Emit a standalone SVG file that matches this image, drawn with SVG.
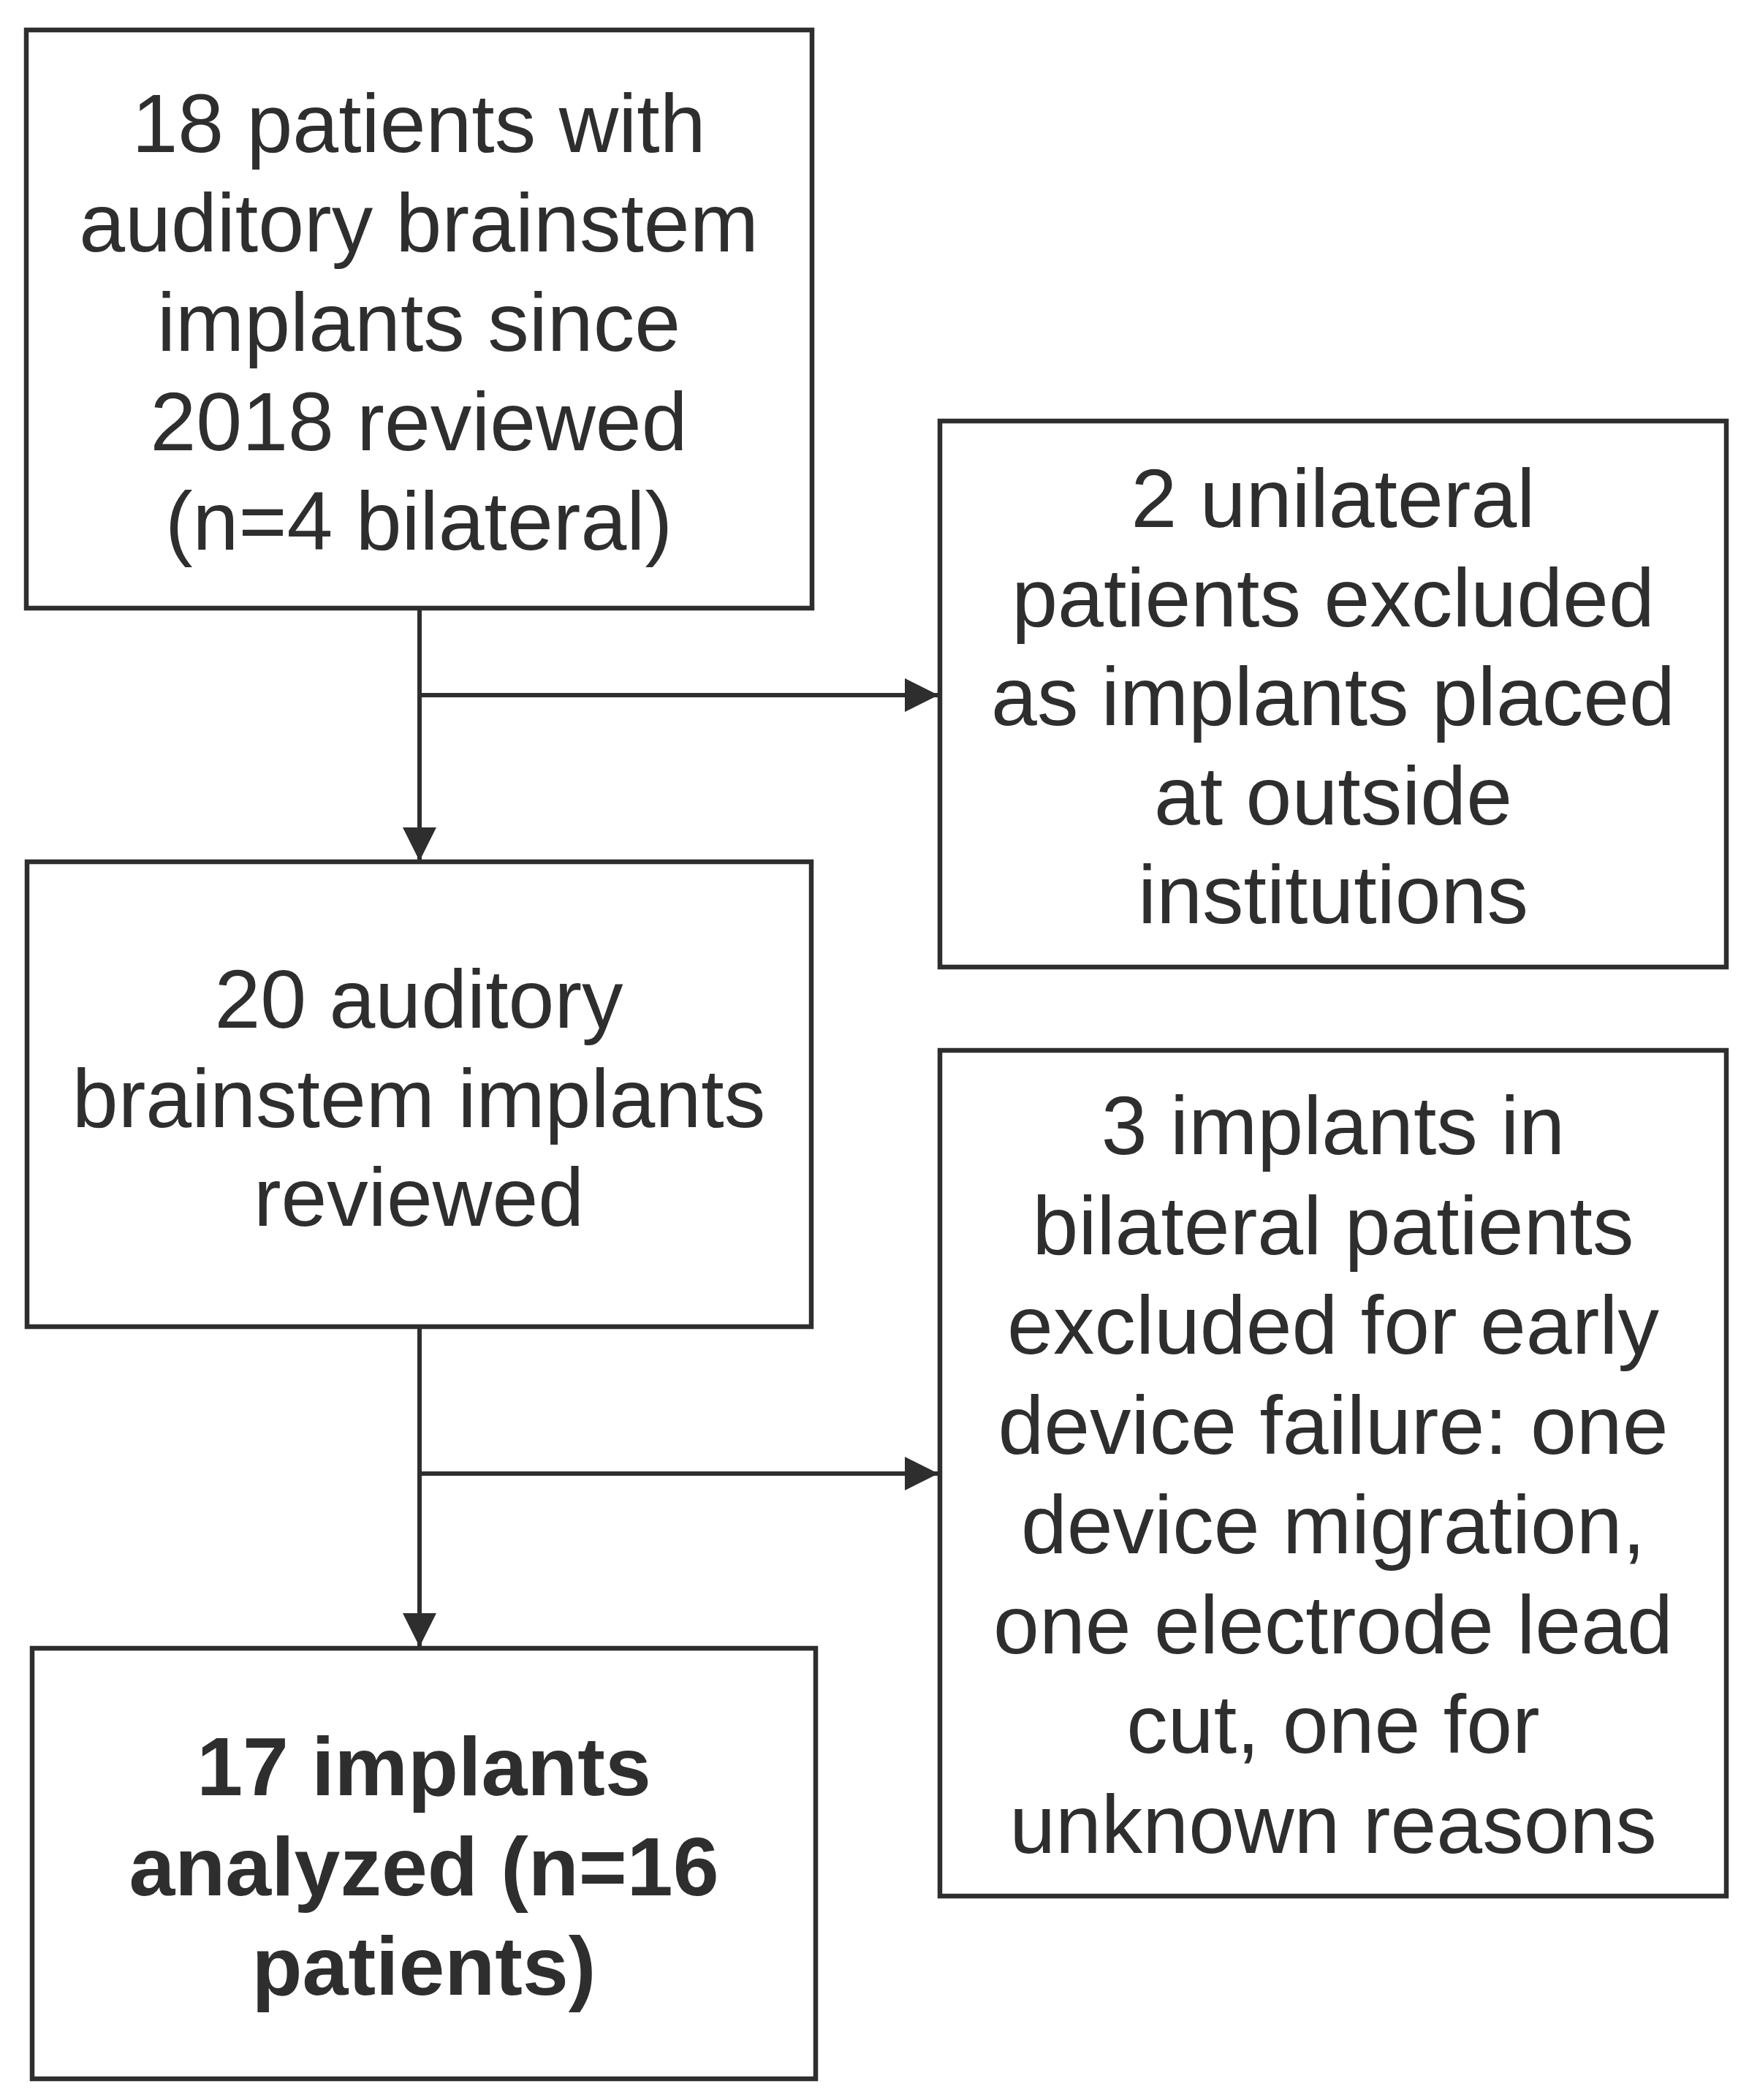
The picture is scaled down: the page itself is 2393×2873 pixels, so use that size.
<svg xmlns="http://www.w3.org/2000/svg" width="2393" height="2873" viewBox="0 0 2393 2873">
<style>
.box{fill:#ffffff;stroke:#2e2e2e;stroke-width:6.5}
.t{font-family:"Liberation Sans",Arial,sans-serif;font-size:113px;fill:#2e2e2e;text-anchor:middle}
.b{font-weight:bold}
.c{fill:none;stroke:#2e2e2e;stroke-width:6}
</style>
<defs>
<marker id="ah" markerUnits="userSpaceOnUse" markerWidth="46" markerHeight="46" viewBox="0 0 46 46" refX="46" refY="23" orient="auto">
<path d="M0,0 L46,23 L0,46 Z" fill="#2e2e2e"/>
</marker>
</defs>
<rect width="2393" height="2873" fill="#ffffff"/>
<g id="connectors">
<line class="c" x1="574" y1="832" x2="574" y2="1178" marker-end="url(#ah)"/>
<line class="c" x1="574" y1="951" x2="1284" y2="951" marker-end="url(#ah)"/>
<line class="c" x1="574" y1="1815" x2="574" y2="2253" marker-end="url(#ah)"/>
<line class="c" x1="574" y1="2016" x2="1284" y2="2016" marker-end="url(#ah)"/>
</g>
<g id="n1">
<rect class="box" x="36" y="41" width="1075" height="791"/>
<text class="t" x="573" y="208">18 patients with</text>
<text class="t" x="573" y="344">auditory brainstem</text>
<text class="t" x="573" y="480">implants since</text>
<text class="t" x="573" y="616">2018 reviewed</text>
<text class="t" x="573" y="752">(n=4 bilateral)</text>
</g>
<g id="n2">
<rect class="box" x="1286" y="576" width="1076" height="747"/>
<text class="t" x="1824" y="721">2 unilateral</text>
<text class="t" x="1824" y="857">patients excluded</text>
<text class="t" x="1824" y="992">as implants placed</text>
<text class="t" x="1824" y="1128">at outside</text>
<text class="t" x="1824" y="1263">institutions</text>
</g>
<g id="n3">
<rect class="box" x="37" y="1179" width="1073" height="636"/>
<text class="t" x="573" y="1406">20 auditory</text>
<text class="t" x="573" y="1542">brainstem implants</text>
<text class="t" x="573" y="1677">reviewed</text>
</g>
<g id="n4">
<rect class="box" x="1286" y="1437" width="1076" height="1157"/>
<text class="t" x="1824" y="1579">3 implants in</text>
<text class="t" x="1824" y="1716">bilateral patients</text>
<text class="t" x="1824" y="1852">excluded for early</text>
<text class="t" x="1824" y="1989">device failure: one</text>
<text class="t" x="1824" y="2125">device migration,</text>
<text class="t" x="1824" y="2262">one electrode lead</text>
<text class="t" x="1824" y="2398">cut, one for</text>
<text class="t" x="1824" y="2535">unknown reasons</text>
</g>
<g id="n5">
<rect class="box" x="44" y="2255" width="1072" height="589"/>
<text class="t b" x="580" y="2456">17 implants</text>
<text class="t b" x="580" y="2593">analyzed (n=16</text>
<text class="t b" x="580" y="2729">patients)</text>
</g>
</svg>
